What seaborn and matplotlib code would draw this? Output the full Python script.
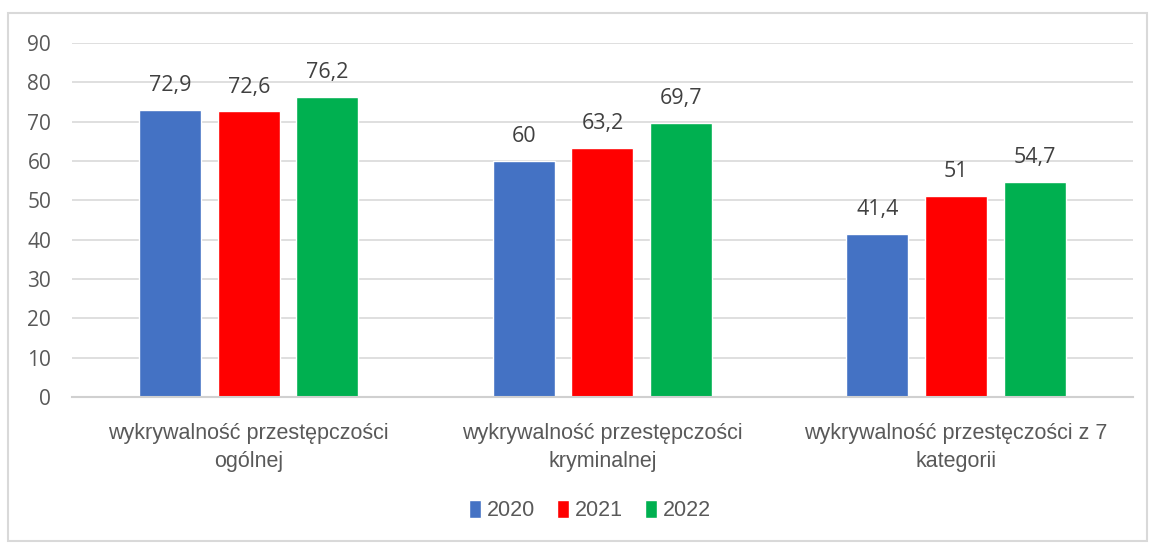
import matplotlib
matplotlib.use("Agg")
import matplotlib.pyplot as plt
import seaborn as sns
import pandas as pd
from matplotlib.patches import Patch, Rectangle

categories = ["wykrywalność przestępczości\nogólnej",
              "wykrywalność przestępczości\nkryminalnej",
              "wykrywalność przestęczości z 7\nkategorii"]
years = ["2020", "2021", "2022"]
values_2020 = [72.9, 60.0, 41.4]
values_2021 = [72.6, 63.2, 51.0]
values_2022 = [76.2, 69.7, 54.7]
colors = ["#4472C4", "#FF0000", "#00B050"]
yticks = [0, 10, 20, 30, 40, 50, 60, 70, 80, 90]

series = {"2020": values_2020, "2021": values_2021, "2022": values_2022}
rows = []
for y in years:
    for c, v in zip(categories, series[y]):
        rows.append({"cat": c, "year": y, "val": v})
df = pd.DataFrame(rows)

sns.set_theme(style="white")
plt.rcParams['font.family'] = ['Liberation Sans Narrow', 'Liberation Sans', 'DejaVu Sans']

fig = plt.figure(figsize=(11.5, 5.43), dpi=100)
ax = fig.add_axes([0.0626, 0.2689, 0.9225, 0.652])

sns.barplot(data=df, x="cat", y="val", hue="year", palette=colors,
            width=0.667, gap=0.21, ax=ax, legend=False, saturation=1)

for cont in ax.containers:
    labels = [f"{b.get_height():g}".replace(".", ",") for b in cont]
    ax.bar_label(cont, labels=labels, padding=10, fontsize=15.5, color="#404040",
                 family=['Open Sans', 'DejaVu Sans'])

ax.set_ylim(0, 90)
ax.set_xlim(-0.5, 2.5)
ax.set_yticks(yticks)
ax.set_yticklabels([str(t) for t in yticks], fontsize=15, color="#595959",
                   family=['Open Sans', 'DejaVu Sans'])
ax.tick_params(axis="y", length=0, pad=15)
ax.tick_params(axis="x", length=0, pad=19, labelsize=15.5, labelcolor="#595959")
for lbl in ax.get_xticklabels():
    lbl.set_linespacing(1.4)
ax.set_xlabel("")
ax.set_ylabel("")
ax.grid(axis="y", color="#D9D9D9", linewidth=1.2)
ax.set_axisbelow(True)
for s in ["top", "right", "left"]:
    ax.spines[s].set_visible(False)
ax.spines["bottom"].set_color("#D0D0D0")
ax.spines["bottom"].set_linewidth(1.5)

handles = [Patch(facecolor=c, label=y) for c, y in zip(colors, years)]
fig.legend(handles=handles, loc="center", bbox_to_anchor=(0.513, 0.06), ncol=3,
           frameon=False, fontsize=15.5, handlelength=0.55, handleheight=0.9,
           handletextpad=0.3, columnspacing=1.0, labelcolor="#595959")

fig.patches.append(Rectangle((8/1150, 2/543), 1139/1150, 528/543, transform=fig.transFigure,
                             fill=False, edgecolor="#D9D9D9", linewidth=1.5))

fig.savefig("out.png", dpi=100)
